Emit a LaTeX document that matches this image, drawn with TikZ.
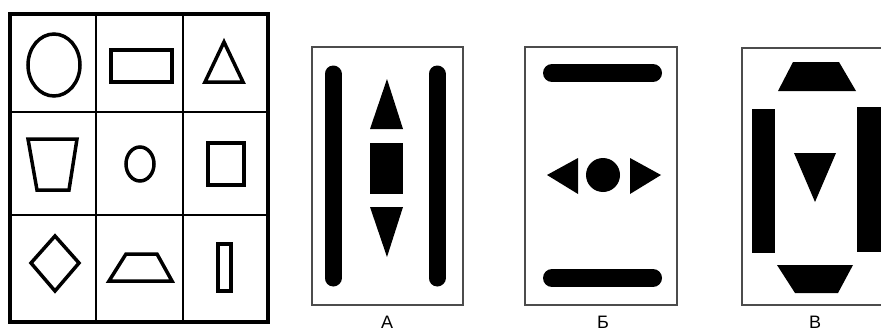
\documentclass[tikz,border=0pt]{standalone}
\usepackage{fontspec}
\setmainfont{Liberation Sans}
\begin{document}
\begin{tikzpicture}[x=1pt,y=-1pt,
  outline/.style={line width=3.5pt, line join=miter},
  panel/.style={draw=black!70, line width=1.3pt},
  vbar/.style={line width=17pt, line cap=round},
  hbar/.style={line width=18pt, line cap=round},
  lbl/.style={font=\fontsize{18}{18}\selectfont, inner sep=0pt}]
\useasboundingbox (0,0) rectangle (881,332);
\clip (0,0) rectangle (881,332);
% ---- grid ----
\draw[line width=4pt] (10,14) rectangle (268,322);
\draw[line width=2pt] (96,14) -- (96,322) (183,14) -- (183,322)
  (10,112) -- (268,112) (10,215) -- (268,215);
\draw[outline] (54,65) ellipse [x radius=26pt, y radius=31pt];
\draw[outline] (111,50) rectangle (172,82);
\draw[outline] (224,42) -- (243,82) -- (205,82) -- cycle;
\draw[outline] (28,139) -- (77,139) -- (69,190) -- (37,190) -- cycle;
\draw[outline] (140,164) ellipse [x radius=14pt, y radius=17pt];
\draw[outline] (208,143) rectangle (244,185);
\draw[outline] (55,236) -- (79,263) -- (55,291) -- (31,263) -- cycle;
\draw[outline] (126,254) -- (157,254) -- (172,281) -- (109,281) -- cycle;
\draw[outline] (218,244) rectangle (231,291);
% ---- panel A ----
\draw[panel] (312,47) rectangle (463,305);
\draw[vbar] (333,74) -- (333,278);
\draw[vbar] (437,74) -- (437,278);
\fill (387,79) -- (403,129) -- (370,129) -- cycle;
\fill (370,143) rectangle (403,194);
\fill (370,207) -- (403,207) -- (387,257) -- cycle;
\node[lbl] (la) at (387,322) {А};
% ---- panel B ----
\draw[panel] (525,47) rectangle (677,305);
\draw[hbar] (552,73) -- (653,73);
\draw[hbar] (552,278) -- (653,278);
\fill (603,175) circle (17pt);
\fill (547,175) -- (578,158) -- (578,194) -- cycle;
\fill (661,175) -- (630,158) -- (630,194) -- cycle;
\node[lbl] (lb) at (603,322) {Б};
% ---- panel V ----
\draw[panel] (742,48) rectangle (895,305);
\fill (793,62) -- (839,62) -- (856,91) -- (778,91) -- cycle;
\fill (777,265) -- (853,265) -- (838,293) -- (795,293) -- cycle;
\fill (752,109) rectangle (775,253);
\fill (857,107) rectangle (890,252);
\fill (794,153) -- (836,153) -- (815,202) -- cycle;
\node[lbl] (lv) at (815,322) {В};
\end{tikzpicture}
\end{document}
